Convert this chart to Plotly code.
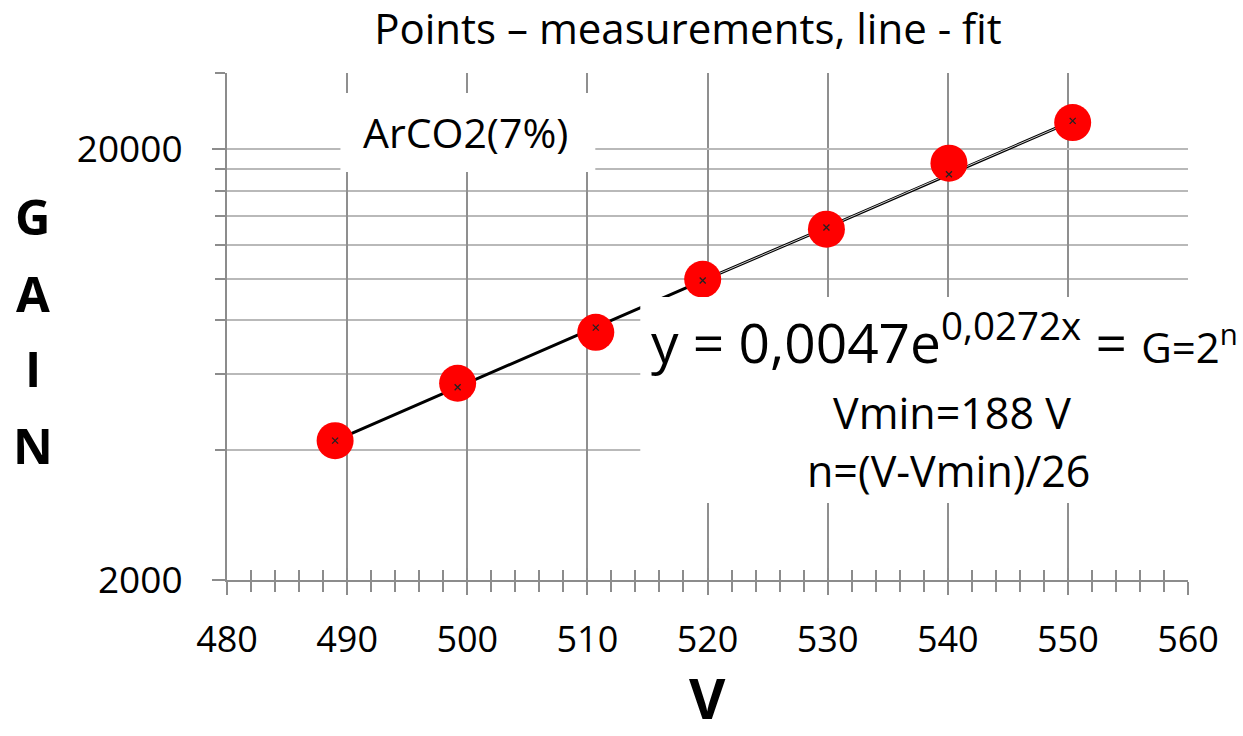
import math
import plotly.graph_objects as go

# ---------------- data ----------------
voltage = [489.0, 499.2, 510.7, 519.6, 529.9, 540.1, 550.4]          # V
gain_meas = [4210, 5720, 7510, 9970, 13030, 18530, 23020]            # measured gain
gain_fit = [4210, 5600, 7700, 9900, 13140, 17470, 23230]             # fit curve values

x_ticks = [480, 490, 500, 510, 520, 530, 540, 550, 560]
y_ticks = [2000, 20000]
y_minor = [4000, 6000, 8000, 10000, 12000, 14000, 16000, 18000, 30000]

title_text = "Points – measurements, line - fit"
gas_label = "ArCO2(7%)"
eq_line = 'y = 0,0047e<sup>0,0272x</sup> = <span style="font-size:42px">G=2<sup>n</sup></span>'
vmin_line = "Vmin=188 V"
n_line = "n=(V-Vmin)/26"
y_title_letters = ["G", "A", "I", "N"]
x_title = "V"

# ---------------- layout geometry (pixels) ----------------
W, H = 1243, 736
L, R, T, B = 226.5, 1188, 73, 580


def px_x(p):
    return (p - L) / (R - L)


def px_y(p):
    return (B - p) / (B - T)


FONT = "Open Sans"
AXC = "#8c8c8c"
VGRID = "#8f8f8f"
HGRID = "#b9b9b9"

fig = go.Figure()

# fit line (double-line look)
fig.add_trace(go.Scatter(
    x=voltage, y=gain_fit, mode="lines+markers",
    line=dict(color="black", width=3),
    marker=dict(symbol="x-thin", size=7, line=dict(color="black", width=1.5)),
    hoverinfo="skip", showlegend=False))
fig.add_trace(go.Scatter(
    x=voltage[3:], y=gain_fit[3:], mode="lines",
    line=dict(color="white", width=0.8),
    hoverinfo="skip", showlegend=False))

# measurements
fig.add_trace(go.Scatter(
    x=voltage, y=gain_meas, mode="markers",
    marker=dict(symbol="circle", size=37, color="#ff0000", line=dict(width=0)),
    showlegend=False))

# small fit markers on top of the red points
fig.add_trace(go.Scatter(
    x=voltage, y=gain_fit, mode="markers",
    marker=dict(symbol="x-thin", size=6, line=dict(color="#222222", width=1.3)),
    hoverinfo="skip", showlegend=False))

# invisible trace for overlay axis (inside ticks => crossing tick marks)
fig.add_trace(go.Scatter(
    x=voltage, y=gain_meas, mode="markers", xaxis="x2",
    marker=dict(opacity=0), hoverinfo="skip", showlegend=False))

fig.update_layout(
    width=W, height=H,
    margin=dict(l=L, r=W - R, t=T, b=H - B, pad=0),
    paper_bgcolor="white", plot_bgcolor="white",
    font=dict(family=FONT, color="black"),
    title=dict(text=title_text, x=688 / W, xanchor="center",
               y=1 - 29 / H, yanchor="middle",
               font=dict(family=FONT, size=42, color="black")),
    xaxis=dict(
        range=[480, 560], tickmode="array", tickvals=x_ticks,
        showgrid=True, gridcolor=VGRID, gridwidth=2,
        showline=True, linecolor=AXC, linewidth=2,
        ticks="outside", ticklen=13, tickwidth=2, tickcolor=AXC,
        tickfont=dict(family=FONT, size=36, color="black"),
        ticklabelstandoff=14,
        zeroline=False, mirror=False,
        minor=dict(tickmode="linear", tick0=480, dtick=2, ticks="outside",
                   ticklen=10, tickwidth=1.5, tickcolor=AXC, showgrid=False),
    ),
    xaxis2=dict(
        range=[480, 560], overlaying="x", anchor="y", side="bottom",
        tickmode="array", tickvals=x_ticks, showticklabels=False,
        showgrid=False, showline=False, zeroline=False,
        ticks="inside", ticklen=12, tickwidth=2, tickcolor=AXC,
        minor=dict(tickmode="linear", tick0=480, dtick=2, ticks="inside",
                   ticklen=10, tickwidth=1.5, tickcolor=AXC, showgrid=False),
    ),
    yaxis=dict(
        type="log", range=[math.log10(2000), math.log10(30000)],
        tickmode="array", tickvals=y_ticks, ticktext=[str(v) for v in y_ticks],
        showgrid=True, gridcolor=HGRID, gridwidth=2,
        showline=True, linecolor=AXC, linewidth=2,
        ticks="outside", ticklen=13, tickwidth=2, tickcolor=AXC,
        tickfont=dict(family=FONT, size=37, color="black"),
        ticklabelstandoff=22,
        zeroline=False,
        minor=dict(tickmode="array", tickvals=y_minor, ticks="outside",
                   ticklen=10, tickwidth=1.5, tickcolor=AXC,
                   showgrid=True, gridcolor=HGRID, gridwidth=2),
    ),
    showlegend=False,
)

# white boxes covering grid (as in the reference)
fig.add_shape(type="rect", xref="paper", yref="paper",
              x0=px_x(340), x1=px_x(595), y0=px_y(172), y1=px_y(93),
              fillcolor="white", line=dict(width=0), layer="above")
fig.add_shape(type="rect", xref="paper", yref="paper",
              x0=px_x(640), x1=px_x(1243), y0=px_y(503), y1=px_y(297),
              fillcolor="white", line=dict(width=0), layer="above")

ann = []
ann.append(dict(text=gas_label, x=px_x(465), y=px_y(132), xanchor="center", yanchor="middle",
                font=dict(family=FONT, size=41, color="black")))
ann.append(dict(text=eq_line, x=px_x(650), y=px_y(339), xanchor="left", yanchor="middle",
                font=dict(family=FONT, size=55, color="black")))
ann.append(dict(text=vmin_line, x=px_x(952), y=px_y(412), xanchor="center", yanchor="middle",
                font=dict(family=FONT, size=43, color="black")))
ann.append(dict(text=n_line, x=px_x(948), y=px_y(470), xanchor="center", yanchor="middle",
                font=dict(family=FONT, size=43, color="black")))
for letter, cy in zip(y_title_letters, [216, 293, 368, 445]):
    ann.append(dict(text="<b>%s</b>" % letter, x=px_x(32), y=px_y(cy), xanchor="center", yanchor="middle",
                    font=dict(family=FONT, size=49, color="black")))
ann.append(dict(text="<b>%s</b>" % x_title, x=px_x(707), y=px_y(697), xanchor="center", yanchor="middle",
                font=dict(family=FONT, size=56, color="black")))
for a in ann:
    a.update(xref="paper", yref="paper", showarrow=False, borderpad=0)
fig.update_layout(annotations=ann)

fig.write_html("out.html")
